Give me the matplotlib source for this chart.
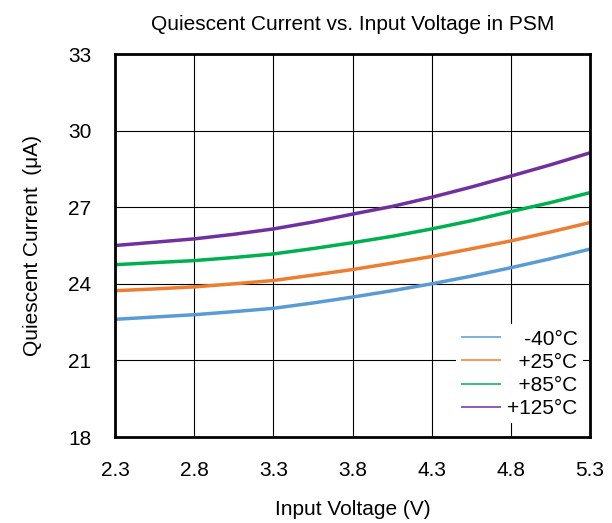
import numpy as np
import matplotlib.pyplot as plt

plt.rcParams['font.family'] = ['Liberation Sans', 'DejaVu Sans']

# Input voltage (V)
voltage = [2.3, 2.55, 2.8, 3.05, 3.3, 3.55, 3.8, 4.05, 4.3, 4.55, 4.8, 5.05, 5.3]

# Quiescent current (uA) per temperature
iq_m40 = [22.61, 22.70, 22.79, 22.91, 23.04, 23.25, 23.48, 23.73, 24.00, 24.30, 24.63, 24.98, 25.36]
iq_25 = [23.73, 23.80, 23.88, 24.00, 24.13, 24.34, 24.56, 24.81, 25.07, 25.37, 25.68, 26.03, 26.40]
iq_85 = [24.75, 24.83, 24.91, 25.03, 25.17, 25.38, 25.61, 25.86, 26.15, 26.47, 26.83, 27.18, 27.57]
iq_125 = [25.50, 25.63, 25.76, 25.94, 26.15, 26.42, 26.73, 27.03, 27.39, 27.79, 28.22, 28.66, 29.13]

# padded so the labels line up on the right like the original
labels = ['   -40°C', '  +25°C', '  +85°C', '+125°C']
colors = ['#5B9BD5', '#ED7D31', '#00B050', '#7030A0']

xticks = [2.3, 2.8, 3.3, 3.8, 4.3, 4.8, 5.3]
yticks = [18, 21, 24, 27, 30, 33]

fig = plt.figure(figsize=(6.12, 5.23), dpi=100)
ax = fig.add_axes([0.188, 0.1644, 0.776, 0.7323])

for ys, lab, c in zip([iq_m40, iq_25, iq_85, iq_125], labels, colors):
    ax.plot(voltage, ys, color=c, linewidth=2.5, label=lab, solid_capstyle='butt')

ax.set_xlim(2.3, 5.3)
ax.set_ylim(18, 33)
ax.set_xticks(xticks)
ax.set_yticks(yticks)
ax.set_xticklabels([f'{v:.1f}' for v in xticks])
ax.tick_params(axis='both', length=0, labelsize=15)
ax.tick_params(axis='x', pad=17)
ax.tick_params(axis='y', pad=17)
ax.grid(True, color='black', linewidth=0.8)
ax.set_axisbelow(True)
for s in ax.spines.values():
    s.set_linewidth(2)
    s.set_color('black')

ax.set_title('Quiescent Current vs. Input Voltage in PSM', fontsize=15, pad=17)
ax.set_xlabel('Input Voltage (V)', fontsize=15, labelpad=15)
ax.set_ylabel('Quiescent Current  (μA)', fontsize=15, labelpad=19)

leg = ax.legend(loc='lower right', bbox_to_anchor=(0.985, 0.036), fontsize=15,
                frameon=True, fancybox=False, handlelength=1.9, handletextpad=0.3,
                labelspacing=0.2, borderpad=0.25, borderaxespad=0)
leg.get_frame().set_edgecolor('none')
leg.get_frame().set_facecolor('white')
leg.get_frame().set_alpha(1)
for line in leg.get_lines():
    line.set_linewidth(1.1)

fig.savefig('out.png', dpi=100)
